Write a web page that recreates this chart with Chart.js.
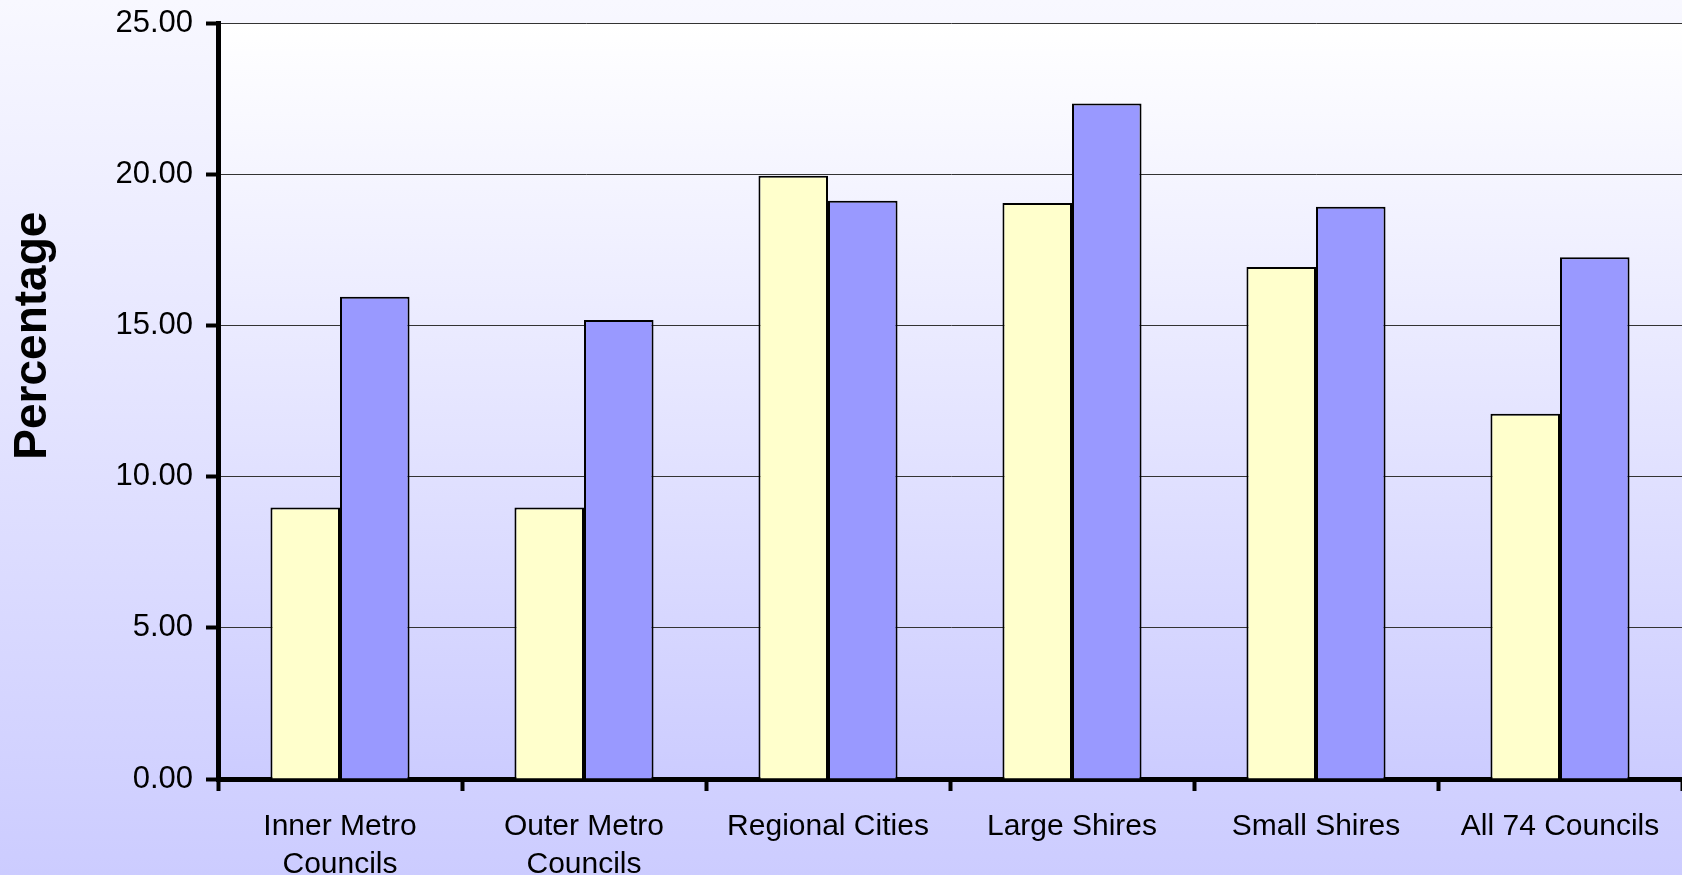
<!DOCTYPE html>
<html>
<head>
<meta charset="utf-8">
<title>Percentage by council group</title>
<script src="https://cdn.jsdelivr.net/npm/chart.js@4.4.1/dist/chart.umd.min.js"></script>
<style>
  html, body { margin: 0; padding: 0; overflow: hidden; }
  body { width: 1682px; height: 875px; background: linear-gradient(to bottom, #f8f8ff 0%, #ccccff 100%); }
  #wrap { position: relative; width: 1682px; height: 875px; }
</style>
</head>
<body>
<div id="wrap"><canvas id="chart"></canvas></div>
<script>
// Council groups (multi-line labels are arrays)
const categories = [
  ['Inner Metro', 'Councils'],
  ['Outer Metro', 'Councils'],
  'Regional Cities',
  'Large Shires',
  'Small Shires',
  'All 74 Councils'
];

// Percentages for the two series
const seriesYellow = [8.98, 8.98, 19.95, 19.05, 16.93, 12.08];
const seriesBlue   = [15.95, 15.18, 19.12, 22.34, 18.92, 17.25];

// Value axis
const yMin = 0;
const yMax = 25;
const yStep = 5;
const yTitle = 'Percentage';

const FONT = "'Liberation Sans', Arial, Helvetica, sans-serif";
Chart.defaults.font.family = FONT;
Chart.defaults.color = '#000';

// Soft vertical gradient behind the plot area
const plotBackground = {
  id: 'plotBackground',
  beforeDraw(chart) {
    const { ctx, chartArea: a } = chart;
    const g = ctx.createLinearGradient(0, a.top, 0, a.bottom);
    g.addColorStop(0, '#ffffff');
    g.addColorStop(1, '#ccccff');
    ctx.save();
    ctx.fillStyle = g;
    ctx.fillRect(a.left, a.top, a.right - a.left, a.bottom - a.top);
    ctx.restore();
  }
};

// Rotated, bold title for the value axis
const valueAxisTitle = {
  id: 'valueAxisTitle',
  afterDraw(chart) {
    const { ctx, chartArea: a } = chart;
    const cy = a.top + (a.bottom - a.top) * 0.4136;
    ctx.save();
    ctx.translate(46, cy);
    ctx.rotate(-Math.PI / 2);
    ctx.font = 'bold 46px ' + FONT;
    ctx.fillStyle = '#000';
    ctx.textAlign = 'center';
    ctx.textBaseline = 'alphabetic';
    ctx.fillText(yTitle, 0, 0);
    ctx.restore();
  }
};

new Chart(document.getElementById('chart'), {
  type: 'bar',
  data: {
    labels: categories,
    datasets: [
      {
        data: seriesYellow,
        backgroundColor: '#ffffcc',
        borderColor: '#000',
        borderWidth: 2,
        categoryPercentage: 0.57,
        barPercentage: 1.0
      },
      {
        data: seriesBlue,
        backgroundColor: '#9999ff',
        borderColor: '#000',
        borderWidth: 2,
        categoryPercentage: 0.57,
        barPercentage: 1.0
      }
    ]
  },
  options: {
    responsive: true,
    maintainAspectRatio: false,
    animation: false,
    layout: { padding: { top: 23, left: 0, right: 0, bottom: 0 } },
    plugins: {
      legend: { display: false },
      tooltip: { enabled: false },
      title: { display: false }
    },
    scales: {
      x: {
        ticks: {
          color: '#000',
          font: { size: 30, lineHeight: 1.25 },
          padding: 17,
          maxRotation: 0,
          autoSkip: false
        },
        grid: {
          drawOnChartArea: false,
          drawTicks: true,
          tickLength: 12,
          tickColor: '#000',
          tickWidth: 4,
          offset: true
        },
        border: { display: true, color: '#000', width: 5 },
        afterFit(scale) { scale.height = 96; }
      },
      y: {
        min: yMin,
        max: yMax,
        ticks: {
          stepSize: yStep,
          color: '#000',
          font: { size: 31 },
          padding: 13,
          callback: v => Number(v).toFixed(2)
        },
        grid: {
          color: '#333',
          lineWidth: 1,
          drawTicks: true,
          tickLength: 12,
          tickColor: '#000',
          tickWidth: 4
        },
        border: { display: true, color: '#000', width: 5 },
        afterFit(scale) {
          scale.width = 218;
          scale.paddingTop = 0;
          scale.paddingBottom = 0;
        }
      }
    }
  },
  plugins: [plotBackground, valueAxisTitle]
});
</script>
</body>
</html>
